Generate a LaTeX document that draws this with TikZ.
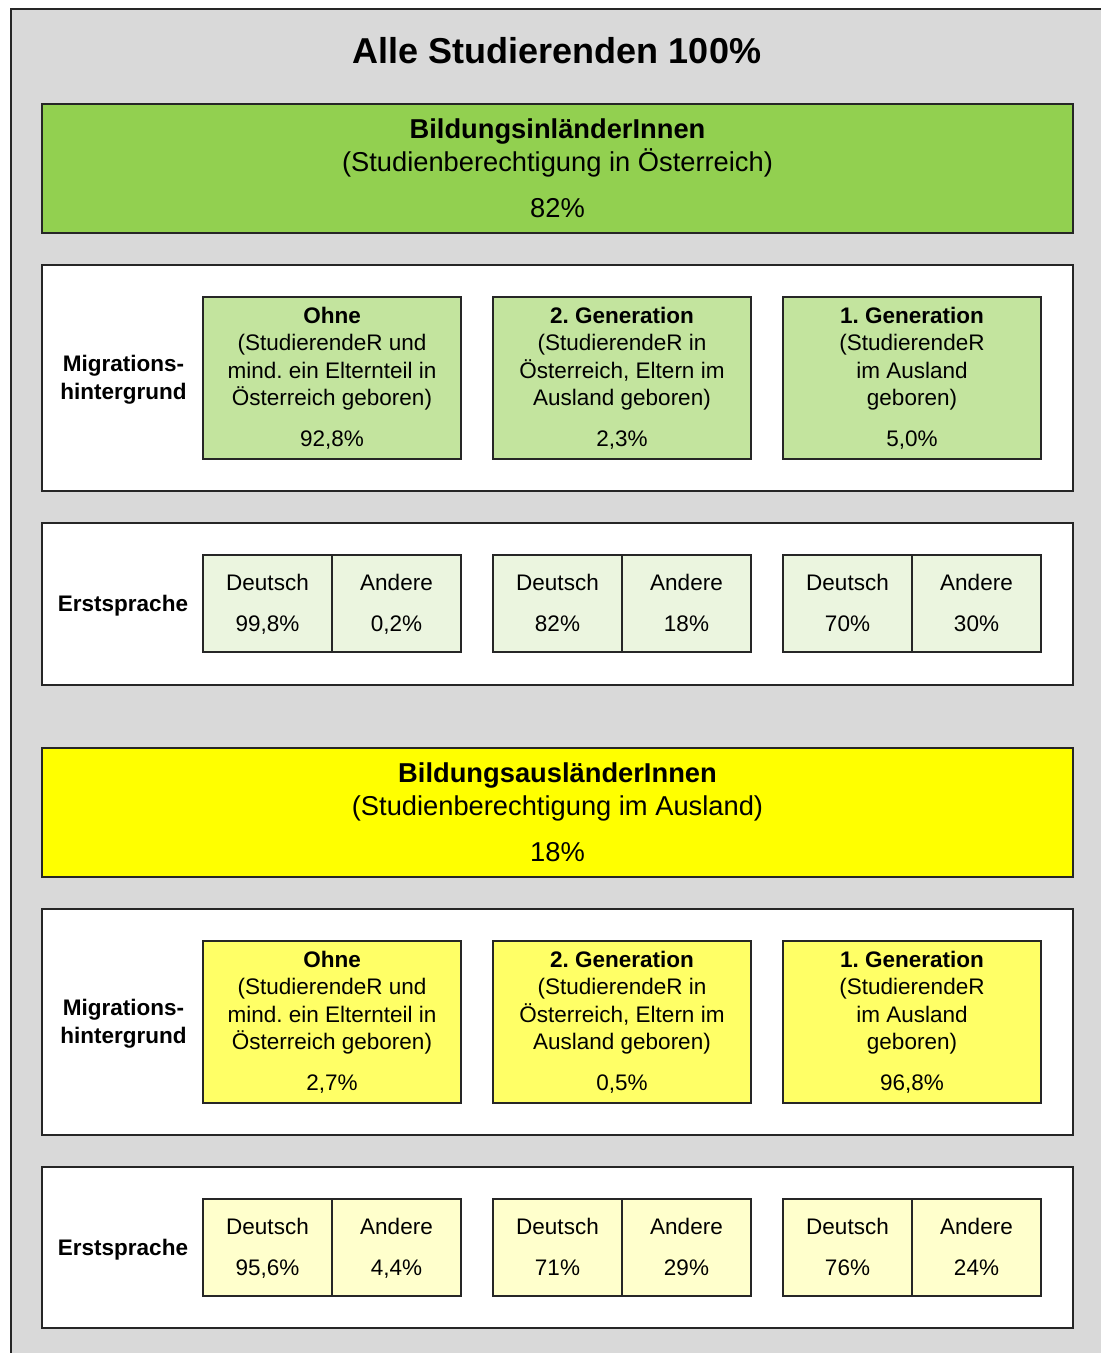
\documentclass[tikz,border=0pt]{standalone}
\usepackage{fontspec}
\setmainfont{Liberation Sans}
\frenchspacing
\definecolor{bggray}{RGB}{217,217,217}
\definecolor{edge}{RGB}{38,38,38}
\definecolor{grhead}{RGB}{146,208,80}
\definecolor{grsub}{RGB}{195,228,158}
\definecolor{grlang}{RGB}{235,245,223}
\definecolor{yehead}{RGB}{255,255,0}
\definecolor{yesub}{RGB}{255,255,102}
\definecolor{yelang}{RGB}{255,255,204}
\newcommand\lstr{\rule[-6pt]{0pt}{26pt}}
\newcommand\hstr{\rule[-6pt]{0pt}{30pt}}
\tikzset{
  box/.style={draw=edge,line width=1.3pt,rectangle,inner sep=0pt,align=center,
    font=\fontsize{22.5}{27.3}\selectfont\frenchspacing},
  headbox/.style={box,minimum width=1031pt,minimum height=129pt,
    font=\fontsize{27.3}{33}\selectfont},
  panelbox/.style={box,fill=white,minimum width=1031pt},
  subbox/.style={box,minimum width=258pt,minimum height=162pt},
  langbox/.style={box,minimum width=129pt,minimum height=97pt},
  sidelabel/.style={align=center,inner sep=0pt,font=\fontsize{22.5}{27.3}\selectfont\bfseries},
}
\begin{document}
\begin{tikzpicture}[x=1pt,y=-1pt]
\useasboundingbox (0,0) rectangle (1101,1353);
\clip (0,0) rectangle (1101,1353);
\node[draw=edge,line width=2.2pt,fill=bggray,rectangle,inner sep=0pt,
  minimum width=1120pt,minimum height=1370pt,anchor=north west] (outer) at (10,8) {};
\node[font=\fontsize{36}{40}\selectfont\bfseries,inner sep=0pt] (title) at (557,51) {Alle Studierenden 100\%};
% ---------- BildungsinländerInnen ----------
\node[headbox,fill=grhead] (h1) at (557.5,168.5)
  {\hstr\textbf{BildungsinländerInnen}\\(Studienberechtigung in Österreich)\\[13pt]82\%\hstr};
\node[panelbox,minimum height=226pt] (p1) at (557.5,378) {};
\node[sidelabel] (m1) at (123.5,378.6) {\lstr Migrations-\\hintergrund\lstr};
\node[subbox,fill=grsub] (s11) at (332,378)
  {\lstr\textbf{Ohne}\\(StudierendeR und\\mind. ein Elternteil in\\Österreich geboren)\\[13.7pt]92,8\%\lstr};
\node[subbox,fill=grsub] (s12) at (622,378)
  {\lstr\textbf{2. Generation}\\(StudierendeR in\\Österreich, Eltern im\\Ausland geboren)\\[13.7pt]2,3\%\lstr};
\node[subbox,fill=grsub] (s13) at (912,378)
  {\lstr\textbf{1. Generation}\\(StudierendeR\\im Ausland\\geboren)\\[13.7pt]5,0\%\lstr};
\node[panelbox,minimum height=162pt] (p2) at (557.5,604) {};
\node[sidelabel] (e1) at (123,604) {\lstr Erstsprache};
\node[langbox,fill=grlang] (l11) at (267.5,603.5) {\lstr Deutsch\\[13.7pt]99,8\%\lstr};
\node[langbox,fill=grlang] (l12) at (396.5,603.5) {\lstr Andere\\[13.7pt]0,2\%\lstr};
\node[langbox,fill=grlang] (l13) at (557.5,603.5) {\lstr Deutsch\\[13.7pt]82\%\lstr};
\node[langbox,fill=grlang] (l14) at (686.5,603.5) {\lstr Andere\\[13.7pt]18\%\lstr};
\node[langbox,fill=grlang] (l15) at (847.5,603.5) {\lstr Deutsch\\[13.7pt]70\%\lstr};
\node[langbox,fill=grlang] (l16) at (976.5,603.5) {\lstr Andere\\[13.7pt]30\%\lstr};
% ---------- BildungsausländerInnen ----------
\node[headbox,fill=yehead] (h2) at (557.5,812.5)
  {\hstr\textbf{BildungsausländerInnen}\\(Studienberechtigung im Ausland)\\[13pt]18\%\hstr};
\node[panelbox,minimum height=226pt] (p3) at (557.5,1022) {};
\node[sidelabel] (m2) at (123.5,1022.6) {\lstr Migrations-\\hintergrund\lstr};
\node[subbox,fill=yesub] (s21) at (332,1022)
  {\lstr\textbf{Ohne}\\(StudierendeR und\\mind. ein Elternteil in\\Österreich geboren)\\[13.7pt]2,7\%\lstr};
\node[subbox,fill=yesub] (s22) at (622,1022)
  {\lstr\textbf{2. Generation}\\(StudierendeR in\\Österreich, Eltern im\\Ausland geboren)\\[13.7pt]0,5\%\lstr};
\node[subbox,fill=yesub] (s23) at (912,1022)
  {\lstr\textbf{1. Generation}\\(StudierendeR\\im Ausland\\geboren)\\[13.7pt]96,8\%\lstr};
\node[panelbox,minimum height=161pt] (p4) at (557.5,1247.5) {};
\node[sidelabel] (e2) at (123,1248) {\lstr Erstsprache};
\node[langbox,fill=yelang] (l21) at (267.5,1247.5) {\lstr Deutsch\\[13.7pt]95,6\%\lstr};
\node[langbox,fill=yelang] (l22) at (396.5,1247.5) {\lstr Andere\\[13.7pt]4,4\%\lstr};
\node[langbox,fill=yelang] (l23) at (557.5,1247.5) {\lstr Deutsch\\[13.7pt]71\%\lstr};
\node[langbox,fill=yelang] (l24) at (686.5,1247.5) {\lstr Andere\\[13.7pt]29\%\lstr};
\node[langbox,fill=yelang] (l25) at (847.5,1247.5) {\lstr Deutsch\\[13.7pt]76\%\lstr};
\node[langbox,fill=yelang] (l26) at (976.5,1247.5) {\lstr Andere\\[13.7pt]24\%\lstr};
\end{tikzpicture}
\end{document}
